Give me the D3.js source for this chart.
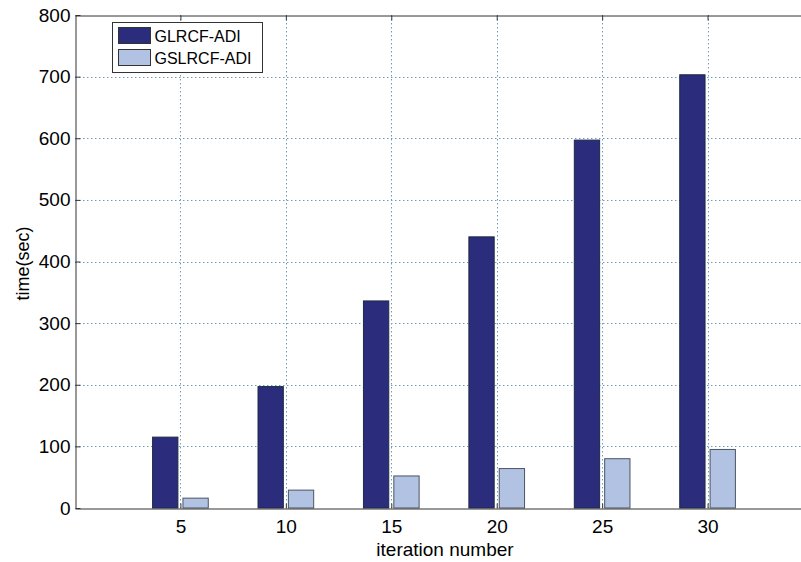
<!DOCTYPE html>
<html>
<head>
<meta charset="utf-8">
<script src="https://cdn.jsdelivr.net/npm/d3@7"></script>
<style>
  body { margin: 0; background: #fff; }
  svg { display: block; font-family: Arial, "Liberation Sans", Helvetica, sans-serif; }
</style>
</head>
<body>
<div id="chart"></div>
<script>
const iterations = [5, 10, 15, 20, 25, 30];
const glrcf = [115, 197, 336, 440, 597, 703];
const gslrcf = [16, 29, 52, 64, 80, 95];
const seriesNames = ['GLRCF-ADI', 'GSLRCF-ADI'];
const yTicks = [0, 100, 200, 300, 400, 500, 600, 700, 800];

const width = 801, height = 562;
const margin = { top: 15, right: -12, bottom: 54, left: 75 };

const svg = d3.select('#chart').append('svg')
  .attr('width', width)
  .attr('height', height);

const x = d3.scaleLinear().domain([0, 35]).range([margin.left, width - margin.right]);
const y = d3.scaleLinear().domain([0, 800]).range([height - margin.bottom, margin.top]);

const gridColor = '#6f9cb8';
const axisColor = '#333';

// grid
svg.append('g').selectAll('line')
  .data(yTicks.slice(1, -1))
  .join('line')
  .attr('x1', x(0)).attr('x2', x(35))
  .attr('y1', d => Math.round(y(d)) + 0.5).attr('y2', d => Math.round(y(d)) + 0.5)
  .attr('stroke', gridColor)
  .attr('stroke-dasharray', '1.5,2.5');

svg.append('g').selectAll('line')
  .data(iterations)
  .join('line')
  .attr('x1', d => Math.round(x(d)) + 0.5).attr('x2', d => Math.round(x(d)) + 0.5)
  .attr('y1', y(800)).attr('y2', y(0))
  .attr('stroke', gridColor)
  .attr('stroke-dasharray', '1.5,2.5');

// bars
const barW = x(1.2) - x(0);
const gap = x(0.12) - x(0);
const bars = svg.append('g');

bars.selectAll('rect.a')
  .data(iterations)
  .join('rect')
  .attr('class', 'a')
  .attr('x', d => x(d) - gap - barW)
  .attr('y', (d, i) => y(glrcf[i]))
  .attr('width', barW)
  .attr('height', (d, i) => y(0) - y(glrcf[i]))
  .attr('fill', '#2b2c7c')
  .attr('stroke', '#1c2a44')
  .attr('stroke-width', 1);

bars.selectAll('rect.b')
  .data(iterations)
  .join('rect')
  .attr('class', 'b')
  .attr('x', d => x(d) + gap)
  .attr('y', (d, i) => y(gslrcf[i]))
  .attr('width', barW)
  .attr('height', (d, i) => y(0) - y(gslrcf[i]))
  .attr('fill', '#b2c2e2')
  .attr('stroke', '#4a5560')
  .attr('stroke-width', 1);

// axes
const yAxis = svg.append('g')
  .attr('transform', `translate(${margin.left + 0.5},0)`)
  .call(d3.axisLeft(y).tickValues(yTicks).tickSizeInner(-5).tickSizeOuter(0).tickPadding(5));
yAxis.select('.domain').attr('stroke', axisColor);
yAxis.selectAll('line').attr('stroke', axisColor);
yAxis.selectAll('text').attr('font-size', '19px').attr('fill', '#000');

const xAxis = svg.append('g')
  .attr('transform', `translate(0,${y(0) + 0.5})`)
  .call(d3.axisBottom(x).tickValues(iterations).tickSizeInner(-5).tickSizeOuter(0).tickPadding(11));
xAxis.select('.domain').attr('stroke', axisColor);
xAxis.selectAll('line').attr('stroke', axisColor);
xAxis.selectAll('text').attr('font-size', '19px').attr('fill', '#000');

const topAxis = svg.append('g')
  .attr('transform', `translate(0,${y(800) + 0.5})`)
  .call(d3.axisTop(x).tickValues(iterations).tickSizeInner(-5).tickSizeOuter(0).tickFormat(''));
topAxis.select('.domain').attr('stroke', axisColor);
topAxis.selectAll('line').attr('stroke', axisColor);

// axis labels
svg.append('text')
  .attr('x', x(17.5) + 1)
  .attr('y', 556)
  .attr('text-anchor', 'middle')
  .attr('font-size', '19px')
  .attr('fill', '#000')
  .text('iteration number');

svg.append('text')
  .attr('transform', `translate(29,${y(400) + 2})rotate(-90)`)
  .attr('text-anchor', 'middle')
  .attr('font-size', '18px')
  .attr('fill', '#000')
  .text('time(sec)');

// legend
const legend = svg.append('g').attr('transform', 'translate(112.5,22.5)');
legend.append('rect')
  .attr('width', 150)
  .attr('height', 50)
  .attr('fill', '#fff')
  .attr('stroke', '#333');

const colors = ['#2b2c7c', '#b2c2e2'];
const items = legend.selectAll('g.item')
  .data(seriesNames)
  .join('g')
  .attr('class', 'item')
  .attr('transform', (d, i) => `translate(6,${5 + i * 22})`);

items.append('rect')
  .attr('width', 32)
  .attr('height', 16)
  .attr('fill', (d, i) => colors[i])
  .attr('stroke', '#333');

items.append('text')
  .attr('x', 36)
  .attr('y', 14)
  .attr('font-size', '16px')
  .attr('fill', '#000')
  .text(d => d);
</script>
</body>
</html>
